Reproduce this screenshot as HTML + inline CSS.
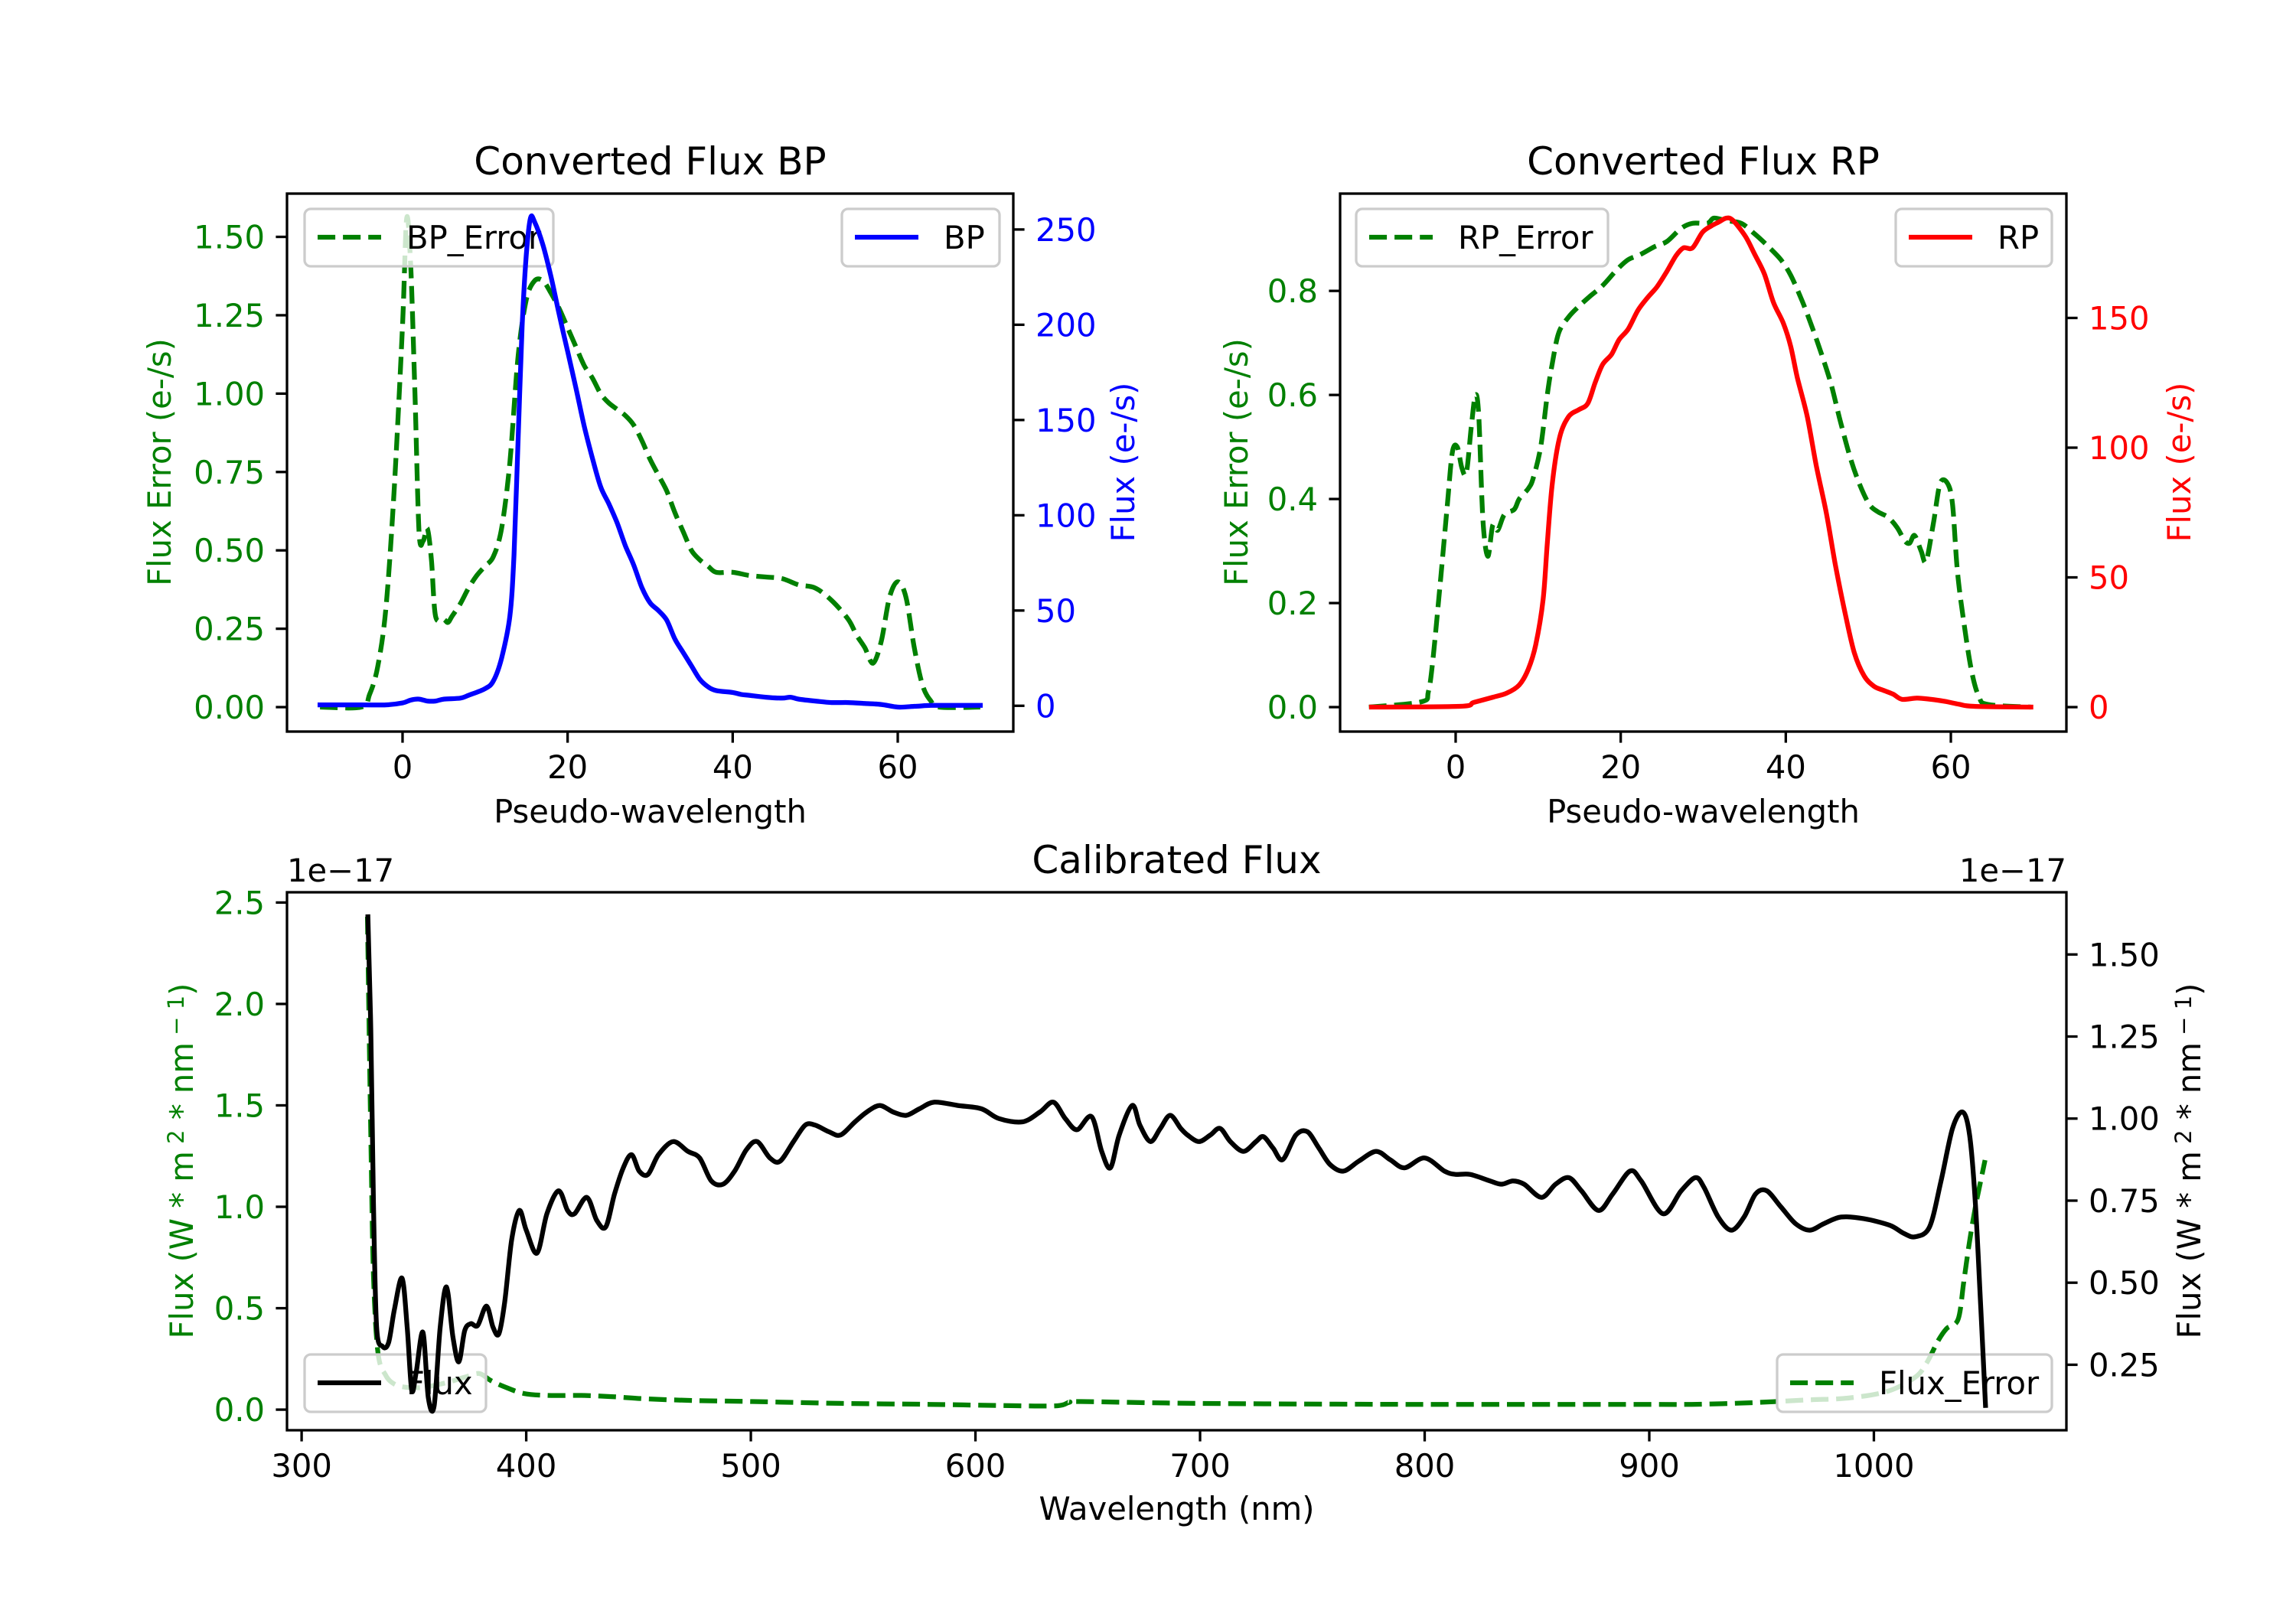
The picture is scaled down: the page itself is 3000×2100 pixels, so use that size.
<!DOCTYPE html>
<html><head><meta charset="utf-8"><style>
html,body{margin:0;padding:0;background:#fff}
svg{display:block;font-family:"DejaVu Sans","Liberation Sans",sans-serif}
</style></head><body>
<svg id="fig" width="3000" height="2100" viewBox="0 0 3000 2100" xmlns="http://www.w3.org/2000/svg">
<rect width="3000" height="2100" fill="#fff"/>
</svg>
<script>
// ---------- Data: Converted Flux BP ----------
const bpErrX = [-10,-5,-4,-3,-2,-1,0,0.5,1,1.5,2,2.5,3,3.5,4,5,5.5,6,7,8,9,10,11,12,13,14,15,16,17,18,19,20,21,22,23,24,25,26,27,28,29,30,31,32,33,34,35,36,37,38,40,42,44,46,48,50,52,54,55,56,57,58,59,60,61,62,63,64,65,70];
const bpErrY = [0,0,0.04,0.13,0.32,0.70,1.22,1.56,1.40,1.0,0.56,0.53,0.57,0.47,0.29,0.28,0.27,0.29,0.33,0.38,0.42,0.45,0.48,0.57,0.78,1.12,1.30,1.36,1.36,1.32,1.27,1.21,1.15,1.09,1.05,1.0,0.97,0.95,0.93,0.90,0.85,0.79,0.74,0.69,0.62,0.56,0.50,0.47,0.45,0.43,0.43,0.42,0.415,0.41,0.39,0.38,0.34,0.28,0.23,0.19,0.14,0.21,0.35,0.40,0.35,0.19,0.07,0.02,0,0];
const bpX = [-10,-5,-2,0,1,2,3,4,5,7,8,10,11,12,13,13.5,14,14.5,15,15.5,16,17,18,19,20,21,22,23,24,25,26,27,28,29,30,31,32,33,34,35,36,37,38,40,41,42,44,46,47,48,50,52,54,56,58,60,62,64,66,70];
const bpY = [0.5,0.5,0.5,1.5,3,3.5,2.5,2.5,3.5,4,5.5,9,13,25,47,79,140,200,237,256,254,242,225,205,186,167,147,130,115,106,96,84,74,62,54,50,45,35,28,21,14,10,8,7,6,5.5,4.5,4,4.5,3.5,2.5,1.7,1.7,1.2,0.7,-0.7,-0.3,0.2,0.2,0.2];
// ---------- Data: Converted Flux RP ----------
const rpErrX = [-10.5,-4.2,-3.3,-2.7,-1.8,-1,-0.4,0.2,0.75,1.3,1.9,2.4,2.8,3.3,3.9,4.5,5.1,5.9,7.1,7.7,8.8,9.4,10.3,11.1,11.7,12.5,13.7,14.9,16.3,17.8,19.5,20.9,22.4,24.1,25.6,27.3,28.7,30.5,31.3,32.8,34.6,36.2,37.9,39.4,40.6,42,43.2,44.3,45.5,46.6,47.8,48.9,50.1,51.2,52.4,53.5,54.4,55,55.6,56.4,57,57.9,58.7,59.6,60.2,60.8,61.6,62.5,63.4,64.5,69.7];
const rpErrY = [0,0.01,0.03,0.1,0.25,0.39,0.49,0.5,0.46,0.45,0.54,0.6,0.56,0.36,0.29,0.35,0.34,0.37,0.38,0.4,0.42,0.44,0.5,0.6,0.66,0.72,0.75,0.77,0.79,0.81,0.84,0.86,0.87,0.885,0.895,0.92,0.93,0.93,0.94,0.935,0.93,0.91,0.885,0.86,0.83,0.78,0.73,0.68,0.62,0.55,0.48,0.43,0.39,0.375,0.365,0.345,0.32,0.315,0.33,0.3,0.28,0.355,0.43,0.43,0.39,0.26,0.16,0.07,0.02,0.005,0];
const rpX = [-10.2,0.5,2.2,4.5,6.2,7.7,8.8,9.7,10.6,11.1,11.7,12.6,13.7,14.9,16,16.9,17.8,18.9,19.8,20.9,22.1,23.3,24.4,25.6,26.7,27.6,28.7,29.9,31,31.9,32.8,33.6,35.1,36.2,37.4,38.5,39.7,40.6,41.4,42.6,43.7,44.9,46,47.2,48.3,49.5,50.7,51.8,53,54.1,55.9,57.6,59.3,61,62.8,69.7];
const rpY = [0,0.3,1.8,3.8,5.4,8.5,14.6,24,41.6,63,86,104,112,114.6,117,125,132,136,141.6,145.7,153,158,162,168,174,177,177,183,185.5,187,188.5,187.6,181.5,174.7,167,156,148,139,127,112,93,75,55,36,21,12,8,6.5,5,3,3.5,3,2.2,1.1,0.3,0];
// ---------- Data: Calibrated Flux ----------
const calX = [329.5,330.8,332,333.4,336,338.7,341.3,344.7,347,349,351,354,356.4,359,361.7,364.5,367.4,370,372.6,375.3,378.4,382.3,385.2,387.8,390.4,393.5,396.9,400,404.8,409.2,414.4,418.4,421.5,427,431.4,435.4,439.3,443.2,446.9,450.3,454.2,458.9,465.4,472,477.2,482.4,487.6,492.8,498,502.8,508.5,513,519,524.2,528.6,534.7,539.9,546.4,551.6,557.4,563.4,569.2,575.1,581.7,592.1,602.6,610.4,620.9,628.7,634.7,640,645.2,651.7,656.2,660.1,664,669.8,673.2,677.9,682.3,686.7,691.4,694.4,699.5,704.6,708.9,713.5,719.3,724.9,728.2,732.5,736.8,742.7,747.8,752.9,757.9,763.8,770.6,778.3,784.6,791,800,808.8,813.8,820.2,829.1,834.2,839.3,844.3,852,858.3,864.2,869.8,877.4,883.7,891.4,896.4,906.1,914.2,920.6,924.4,930.7,936.6,942.2,947.3,952.3,958.7,965.1,971.4,977.8,985.4,995.6,1007,1013.4,1018.4,1024.8,1029.9,1035,1039.5,1042.6,1045.2,1047.6,1049.7];
const calFlux = [1.615,1.27,0.74,0.365,0.306,0.317,0.418,0.514,0.365,0.173,0.227,0.349,0.15,0.125,0.365,0.487,0.333,0.259,0.354,0.375,0.37,0.429,0.365,0.344,0.44,0.63,0.72,0.66,0.59,0.71,0.78,0.72,0.71,0.76,0.69,0.67,0.77,0.85,0.89,0.84,0.83,0.89,0.93,0.90,0.88,0.81,0.80,0.84,0.905,0.93,0.88,0.87,0.93,0.98,0.98,0.96,0.95,0.99,1.02,1.04,1.02,1.01,1.03,1.05,1.04,1.03,1.0,0.99,1.02,1.05,1.0,0.966,1.006,0.9,0.85,0.95,1.04,0.98,0.93,0.97,1.01,0.97,0.95,0.93,0.95,0.97,0.93,0.9,0.93,0.945,0.91,0.875,0.95,0.96,0.91,0.86,0.84,0.87,0.90,0.875,0.85,0.88,0.84,0.83,0.83,0.81,0.80,0.81,0.80,0.76,0.80,0.82,0.78,0.72,0.77,0.84,0.81,0.71,0.78,0.82,0.79,0.70,0.66,0.70,0.77,0.78,0.73,0.68,0.66,0.68,0.70,0.695,0.675,0.65,0.64,0.67,0.81,0.97,1.02,0.95,0.74,0.42,0.126];
const errX = [329.3,330.8,332,334,337.4,341.3,346.5,354.4,364.8,372.6,379,384.3,390.9,398.8,409.2,424.9,438,453.6,474.5,500.7,539.9,579.1,618.3,636.6,641.8,647,699.3,792,894,919,945,970.6,988.4,1006,1018.4,1023.5,1028.6,1032.4,1037.5,1040,1042.6,1045.2,1047.6,1049.5];
const errY = [2.43,1.35,0.66,0.28,0.17,0.126,0.11,0.11,0.134,0.16,0.178,0.143,0.11,0.08,0.07,0.07,0.064,0.053,0.045,0.04,0.031,0.026,0.019,0.019,0.036,0.04,0.031,0.026,0.026,0.026,0.034,0.048,0.057,0.09,0.16,0.23,0.34,0.40,0.445,0.63,0.83,1.0,1.13,1.23];
// ---------- Tick values ----------
const pwTicks = [0,20,40,60];
const bpErrTicks = [0,0.25,0.5,0.75,1.0,1.25,1.5];
const bpTicks = [0,50,100,150,200,250];
const rpErrTicks = [0,0.2,0.4,0.6,0.8];
const rpTicks = [0,50,100,150];
const wlTicks = [300,400,500,600,700,800,900,1000];
const calErrTicks = [0,0.5,1.0,1.5,2.0,2.5];
const calFluxTicks = [0.25,0.5,0.75,1.0,1.25,1.5];

const NS = 'http://www.w3.org/2000/svg';
const svg = document.getElementById('fig');
const FS = 41.7, GREEN = '#008000';
function el(tag, attrs, parent) {
  const e = document.createElementNS(NS, tag);
  for (const k in attrs) e.setAttribute(k, attrs[k]);
  (parent || svg).appendChild(e);
  return e;
}
function txt(s, x, y, opts, parent) {
  const t = el('text', Object.assign({x: x, y: y, 'font-size': FS, fill: '#000'}, opts), parent);
  t.textContent = s;
  return t;
}
function scale(d0, d1, r0, r1) { return v => r0 + (v - d0) / (d1 - d0) * (r1 - r0); }
function extent(a) { return [Math.min(...a), Math.max(...a)]; }
function padded(a) { const e = extent(a), m = (e[1] - e[0]) * 0.05; return [e[0] - m, e[1] + m]; }

let clipId = 0;
function makePanel(name, L, R, T, B, xs, yls, yrs) {
  const g = el('g', {});
  
  
  const id = 'clip' + (clipId++);
  const cp = el('clipPath', {id: id}, g);
  el('rect', {x: L, y: T, width: R - L, height: B - T}, cp);
  return {g: g, L: L, R: R, T: T, B: B,
    x: scale(xs[0], xs[1], L, R), yl: scale(yls[0], yls[1], B, T), yr: scale(yrs[0], yrs[1], B, T), clip: 'url(#' + id + ')'};
}
function smoothPath(p) {
  let d = 'M' + p[0][0].toFixed(1) + ',' + p[0][1].toFixed(1);
  const k = 0.16;
  for (let i = 0; i < p.length - 1; i++) {
    const p0 = p[Math.max(0, i - 1)], p1 = p[i], p2 = p[i + 1], p3 = p[Math.min(p.length - 1, i + 2)];
    const c1x = p1[0] + (p2[0] - p0[0]) * k, c1y = p1[1] + (p2[1] - p0[1]) * k;
    const c2x = p2[0] - (p3[0] - p1[0]) * k, c2y = p2[1] - (p3[1] - p1[1]) * k;
    d += ' C' + c1x.toFixed(1) + ',' + c1y.toFixed(1) + ' ' + c2x.toFixed(1) + ',' + c2y.toFixed(1) + ' ' + p2[0].toFixed(1) + ',' + p2[1].toFixed(1);
  }
  return d;
}
function drawLine(P, xa, ya, yfn, color, dashed, name) {
  const pts = xa.map((v, i) => [P.x(v), yfn(ya[i])]);
  const l = el('path', {d: smoothPath(pts), fill: 'none', stroke: color, 'stroke-width': 6.25,
    'stroke-linejoin': 'round', 'stroke-linecap': dashed ? 'butt' : 'square', 'clip-path': P.clip}, P.g);
  if (dashed) l.setAttribute('stroke-dasharray', '23.1 10');
  
  
}
function xTicks(P, ticks) {
  ticks.forEach(v => {
    const X = P.x(v);
    el('line', {x1: X, x2: X, y1: P.B, y2: P.B + 14.6, stroke: '#000', 'stroke-width': 3.3}, P.g);
    const t = txt(String(v), X, P.B + 29 + 32, {'text-anchor': 'middle'}, P.g);
    
    
  });
}
function yTicks(P, ticks, yfn, side, color, dec) {
  ticks.forEach(v => {
    const Y = yfn(v);
    const X0 = side === 'l' ? P.L : P.R;
    const d = side === 'l' ? -1 : 1;
    el('line', {x1: X0, x2: X0 + d * 14.6, y1: Y, y2: Y, stroke: '#000', 'stroke-width': 3.3}, P.g);
    const t = txt(v.toFixed(dec), X0 + d * 29, Y + 15, {'text-anchor': side === 'l' ? 'end' : 'start', fill: color}, P.g);
    
    
  });
}
function frame(P) {
  el('rect', {x: P.L, y: P.T, width: P.R - P.L, height: P.B - P.T, fill: 'none', stroke: '#000', 'stroke-width': 3.3}, P.g);
}
function legend(P, x0, y0, w, label, color, dashed, name) {
  const g = el('g', {}, P.g);
  
  
  el('rect', {x: x0, y: y0, width: w, height: 75, rx: 8, fill: '#fff', 'fill-opacity': 0.8, stroke: '#cccccc', 'stroke-width': 3.3}, g);
  const l = el('line', {x1: x0 + 17, x2: x0 + 100, y1: y0 + 37, y2: y0 + 37, stroke: color, 'stroke-width': 6.25}, g);
  if (dashed) l.setAttribute('stroke-dasharray', '23.1 10');
  txt(label, x0 + 133, y0 + 52, {}, g);
}
function rotLabel(P, cx, cy, content, color, name) {
  const t = el('text', {x: cx, y: cy, 'font-size': FS, fill: color, 'text-anchor': 'middle',
    transform: 'rotate(-90 ' + cx + ' ' + cy + ')'}, P.g);
  
  
  if (typeof content === 'string') t.textContent = content;
  else content(t);
  return t;
}

// ---------- Panel 1: BP ----------
{
  const P = makePanel('bp-panel', 375, 1324, 253, 956, [-14, 74], padded(bpErrY), padded(bpY));
  drawLine(P, bpErrX, bpErrY, P.yl, GREEN, true, 'bp-error-line');
  legend(P, 398, 273, 325, 'BP_Error', GREEN, true, 'bp-error-legend');
  drawLine(P, bpX, bpY, P.yr, '#0000ff', false, 'bp-line');
  legend(P, 1100, 273, 206, 'BP', '#0000ff', false, 'bp-legend');
  frame(P);
  xTicks(P, pwTicks);
  yTicks(P, bpErrTicks, P.yl, 'l', GREEN, 2);
  yTicks(P, bpTicks, P.yr, 'r', '#0000ff', 0);
  const t = txt('Converted Flux BP', (P.L + P.R) / 2, 228, {'text-anchor': 'middle', 'font-size': 50}, P.g);
   
  const xl = txt('Pseudo-wavelength', (P.L + P.R) / 2, 1075, {'text-anchor': 'middle'}, P.g);
   
  rotLabel(P, 223, 604, 'Flux Error (e-/s)', GREEN, 'bp-left-y-axis-title');
  rotLabel(P, 1482, 604, 'Flux (e-/s)', '#0000ff', 'bp-right-y-axis-title');
}
// ---------- Panel 2: RP ----------
{
  const P = makePanel('rp-panel', 1751, 2700, 253, 956, [-14, 74], padded(rpErrY), padded(rpY));
  drawLine(P, rpErrX, rpErrY, P.yl, GREEN, true, 'rp-error-line');
  legend(P, 1772, 273, 329, 'RP_Error', GREEN, true, 'rp-error-legend');
  drawLine(P, rpX, rpY, P.yr, '#ff0000', false, 'rp-line');
  legend(P, 2477, 273, 204, 'RP', '#ff0000', false, 'rp-legend');
  frame(P);
  xTicks(P, pwTicks);
  yTicks(P, rpErrTicks, P.yl, 'l', GREEN, 1);
  yTicks(P, rpTicks, P.yr, 'r', '#ff0000', 0);
  const t = txt('Converted Flux RP', (P.L + P.R) / 2, 228, {'text-anchor': 'middle', 'font-size': 50}, P.g);
   
  const xl = txt('Pseudo-wavelength', (P.L + P.R) / 2, 1075, {'text-anchor': 'middle'}, P.g);
   
  rotLabel(P, 1630, 604, 'Flux Error (e-/s)', GREEN, 'rp-left-y-axis-title');
  rotLabel(P, 2862, 604, 'Flux (e-/s)', '#ff0000', 'rp-right-y-axis-title');
}
// ---------- Panel 3: Calibrated ----------
function fluxUnits(t) {
  const parts = [['Flux (W * m', 0], [' 2', 1], [' * nm', 0], [' \u2212 1', 1], [')', 0]];
  parts.forEach(p => {
    const s = document.createElementNS(NS, 'tspan');
    s.textContent = p[0];
    if (p[1]) { s.setAttribute('baseline-shift', '40%'); s.setAttribute('font-size', '29'); }
    t.appendChild(s);
  });
}
{
  const P = makePanel('calibrated-panel', 375, 2700, 1166, 1869, padded(calX), padded(errY), padded(calFlux));
  drawLine(P, errX, errY, P.yl, GREEN, true, 'flux-error-line');
  legend(P, 398, 1770, 237, 'Flux', '#000', false, 'flux-legend');
  legend(P, 2322, 1770, 359, 'Flux_Error', GREEN, true, 'flux-error-legend');
  drawLine(P, calX, calFlux, P.yr, '#000', false, 'flux-line');
  frame(P);
  xTicks(P, wlTicks);
  yTicks(P, calErrTicks, P.yl, 'l', GREEN, 1);
  yTicks(P, calFluxTicks, P.yr, 'r', '#000', 2);
  const t = txt('Calibrated Flux', (P.L + P.R) / 2, 1141, {'text-anchor': 'middle', 'font-size': 50}, P.g);
   
  const o1 = txt('1e\u221217', 375, 1152, {}, P.g);
   
  const o2 = txt('1e\u221217', 2700, 1152, {'text-anchor': 'end'}, P.g);
   
  const xl = txt('Wavelength (nm)', (P.L + P.R) / 2, 1986, {'text-anchor': 'middle'}, P.g);
   
  rotLabel(P, 252, 1517, fluxUnits, GREEN, 'calibrated-left-y-axis-title');
  rotLabel(P, 2875, 1517, fluxUnits, '#000', 'calibrated-right-y-axis-title');
}
</script>
</body></html>
